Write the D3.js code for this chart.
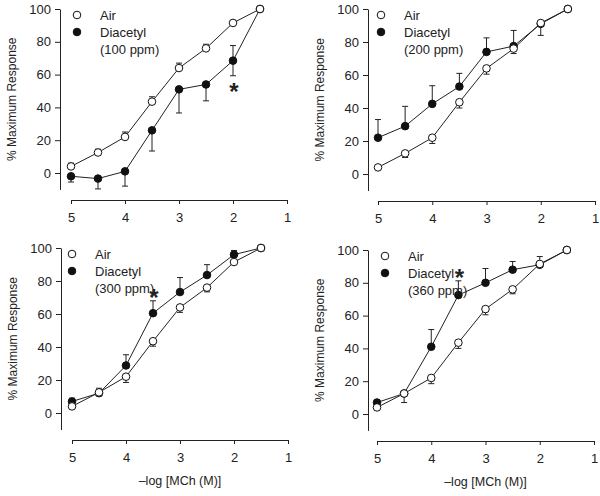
<!DOCTYPE html>
<html lang="en">
<head>
    <meta charset="UTF-8">
    <script type="text/javascript" src="https://d3js.org/d3.v7.min.js"></script>
    <title>MCh dose response</title>
    <style>
        body { margin: 0; background: #fff; }
        text { font-family: "Liberation Sans", Arial, sans-serif; fill: #222; }
        .axis path, .axis line { stroke: #222; stroke-width: 1; }
        .axis text { font-size: 13px; fill: #222; }
    </style>
</head>
<body>
    <script type="text/javascript">
        // doses (-log M) and tick labels
        const doses = [5, 4.5, 4, 3.5, 3, 2.5, 2, 1.5];
        const xTicks = [5, 4, 3, 2, 1];
        const yTicks = [0, 20, 40, 60, 80, 100];

        // air control, same in every panel
        const airMean = [4, 12.5, 22, 43.5, 64, 76, 91.5, 100];

        // panel labels
        const concentrations = ['(100 ppm)', '(200 ppm)', '(300 ppm)', '(360 ppm)'];

        // diacetyl means per panel
        const diacetyl100 = [-2, -3.4, 1, 26, 51, 54, 68.5, 100];
        const diacetyl200 = [22, 29, 42.5, 53, 74, 77.5, 91, 100];
        const diacetyl300 = [7, 12, 28.8, 60.5, 73.3, 83.6, 96, 100];
        const diacetyl360 = [7, 12.5, 41, 72.5, 80, 88, 91, 100];

        // error bars (upper / lower) for diacetyl
        const diaUp100 = [0, 0, 0, 0, 0, 0, 9.2, 0];
        const diaDown100 = [3.5, 6.3, 9, 12.6, 14.4, 10, 9.2, 0];
        const diaUp200 = [11, 12, 11, 8, 8.5, 9.5, 0, 0];
        const diaDown200 = [0, 0, 0, 0, 0, 0, 7, 0];
        const diaUp300 = [2, 3, 6.5, 7.5, 8.8, 6.3, 2.5, 0];
        const diaDown300 = [0, 0, 0, 0, 0, 0, 0, 0];
        const diaUp360 = [1.5, 0, 10.5, 8.7, 8.7, 5, 5, 0];
        const diaDown360 = [0, 5.5, 0, 0, 0, 0, 0, 0];

        // error bars for air
        const airUp100 = [2, 2, 3, 3, 3, 2.5, 1.5, 0];
        const airDown100 = [0, 0, 0, 0, 0, 0, 0, 0];
        const airUp200 = [0, 0, 0, 0, 0, 0, 0, 0];
        const airDown200 = [1, 2.5, 3.5, 3.5, 3.5, 3, 0, 0];
        const airUp300 = [0, 0, 0, 0, 0, 0, 0, 0];
        const airDown300 = [1.5, 2, 3.5, 3, 3, 2.6, 1, 0];
        const airUp360 = [0, 0, 0, 0, 0, 0, 0, 0];
        const airDown360 = [1.5, 0, 3.5, 3.5, 3.5, 2.7, 0, 0];

        // significance stars [dose, value]
        const stars100 = [[2, 52]];
        const stars200 = [];
        const stars300 = [[3.5, 72]];
        const stars360 = [[3.5, 85.5]];

        const width = 600;
        const height = 496;

        const svg = d3.select('body')
            .append('svg')
            .attr('width', width)
            .attr('height', height);

        const panels = [
            { axisX: 60, x0: 71, x1: 287, y0: 173, y100: 9, legX: 77,
              dia: diacetyl100, dUp: diaUp100, dDown: diaDown100, aUp: airUp100, aDown: airDown100, stars: stars100, xTitle: false },
            { axisX: 368, x0: 378, x1: 595, y0: 174, y100: 9, legX: 381,
              dia: diacetyl200, dUp: diaUp200, dDown: diaDown200, aUp: airUp200, aDown: airDown200, stars: stars200, xTitle: false },
            { axisX: 61, x0: 72, x1: 288, y0: 413, y100: 248, legX: 72,
              dia: diacetyl300, dUp: diaUp300, dDown: diaDown300, aUp: airUp300, aDown: airDown300, stars: stars300, xTitle: true },
            { axisX: 368, x0: 377, x1: 594, y0: 414, y100: 250, legX: 385,
              dia: diacetyl360, dUp: diaUp360, dDown: diaDown360, aUp: airUp360, aDown: airDown360, stars: stars360, xTitle: true }
        ];

        panels.forEach((p, i) => {
            const g = svg.append('g');

            const x = d3.scaleLinear().domain([5, 1]).range([p.x0, p.x1]);
            const yBase = d3.scaleLinear().domain([0, 100]).range([p.y0, p.y100]);
            const y = d3.scaleLinear().domain([-10, 100]).range([yBase(-10), yBase(100)]);

            // axes
            g.append('g')
                .attr('class', 'axis')
                .attr('transform', `translate(${p.axisX},0)`)
                .call(d3.axisLeft(y).tickValues(yTicks).tickSize(5).tickPadding(4).tickSizeOuter(0));

            const xAxisY = p.y0 + 27;
            g.append('g')
                .attr('class', 'axis')
                .attr('transform', `translate(0,${xAxisY})`)
                .call(d3.axisBottom(x).tickValues(xTicks).tickFormat(d3.format('d'))
                    .tickSize(4).tickPadding(9).tickSizeOuter(0));

            // y title
            g.append('text')
                .attr('transform', `translate(${p.axisX - 44},${(y(-10) + y(100)) / 2}) rotate(-90)`)
                .attr('text-anchor', 'middle')
                .style('font-size', '12px')
                .text('% Maximum Response');

            if (p.xTitle) {
                g.append('text')
                    .attr('x', (p.x0 + p.x1) / 2)
                    .attr('y', xAxisY + 45)
                    .attr('text-anchor', 'middle')
                    .style('font-size', '12.5px')
                    .text('\u2013log [MCh (M)]');
            }

            const series = [
                { mean: p.dia, up: p.dUp, down: p.dDown, fill: '#111' },
                { mean: airMean, up: p.aUp, down: p.aDown, fill: '#fff' }
            ];

            const line = d3.line()
                .x((d, j) => x(doses[j]))
                .y(d => y(d));

            series.forEach(s => {
                g.append('path')
                    .datum(s.mean)
                    .attr('d', line)
                    .attr('fill', 'none')
                    .attr('stroke', '#222')
                    .attr('stroke-width', 1);
            });

            // error bars
            series.forEach(s => {
                s.mean.forEach((m, j) => {
                    [[s.up[j], 1], [s.down[j], -1]].forEach(([e, dir]) => {
                        if (!e) return;
                        const cx = x(doses[j]);
                        const yEnd = y(m + dir * e);
                        g.append('line')
                            .attr('x1', cx).attr('x2', cx)
                            .attr('y1', y(m)).attr('y2', yEnd)
                            .attr('stroke', '#222');
                        g.append('line')
                            .attr('x1', cx - 3).attr('x2', cx + 3)
                            .attr('y1', yEnd).attr('y2', yEnd)
                            .attr('stroke', '#222');
                    });
                });
            });

            // markers
            series.forEach(s => {
                g.append('g').selectAll('circle')
                    .data(s.mean)
                    .enter()
                    .append('circle')
                    .attr('cx', (d, j) => x(doses[j]))
                    .attr('cy', d => y(d))
                    .attr('r', 3.8)
                    .attr('fill', s.fill)
                    .attr('stroke', '#111')
                    .attr('stroke-width', 1);
            });

            // stars
            p.stars.forEach(([d, v]) => {
                g.append('text')
                    .attr('x', x(d) + 1)
                    .attr('y', y(v) + 12)
                    .attr('text-anchor', 'middle')
                    .style('font-size', '24px')
                    .style('font-weight', 'bold')
                    .text('*');
            });

            // legend
            const ly = p.y100 + 6;
            g.append('circle')
                .attr('cx', p.legX).attr('cy', ly).attr('r', 3.8)
                .attr('fill', '#fff').attr('stroke', '#111');
            g.append('circle')
                .attr('cx', p.legX).attr('cy', ly + 17).attr('r', 3.8)
                .attr('fill', '#111').attr('stroke', '#111');
            g.append('text')
                .attr('x', p.legX + 23).attr('y', ly + 4.5)
                .style('font-size', '13px')
                .text('Air');
            g.append('text')
                .attr('x', p.legX + 23).attr('y', ly + 21.5)
                .style('font-size', '13px')
                .text('Diacetyl');
            g.append('text')
                .attr('x', p.legX + 23).attr('y', ly + 38.5)
                .style('font-size', '13px')
                .text(concentrations[i]);
        });
    </script>
</body>
</html>
